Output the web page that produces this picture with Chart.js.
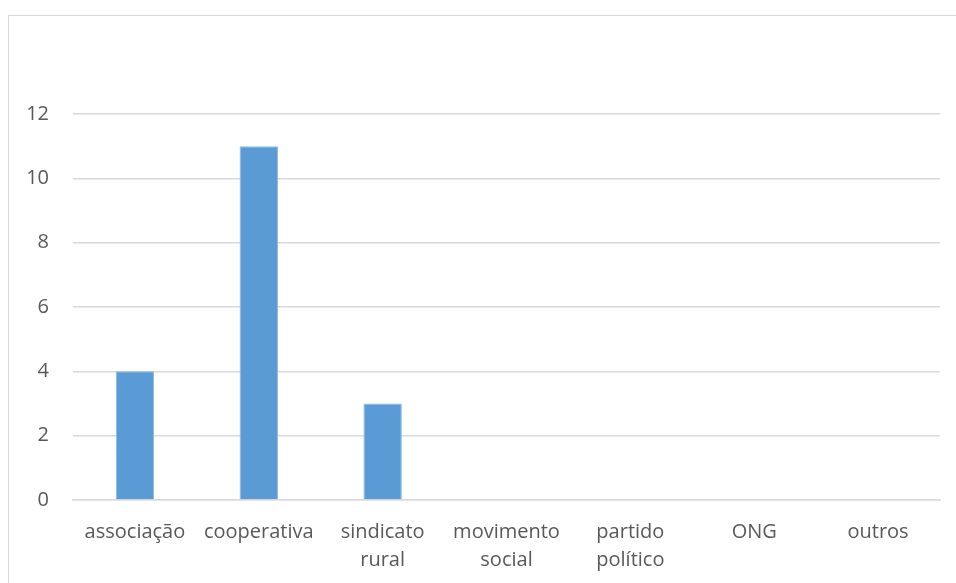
<!DOCTYPE html>
<html>
<head>
<meta charset="utf-8">
<script src="https://cdn.jsdelivr.net/npm/chart.js@4.4.1/dist/chart.umd.min.js"></script>
<style>
  html, body { margin: 0; padding: 0; background: #fff; overflow: hidden; }
  #wrap { width: 956px; height: 583px; }
</style>
</head>
<body>
<div id="wrap"><canvas id="c" width="956" height="583"></canvas></div>
<script>
// Categories (multi-line labels split as arrays)
const categories = [
  'associação',
  'cooperativa',
  ['sindicato', 'rural'],
  ['movimento', 'social'],
  ['partido', 'político'],
  'ONG',
  'outros'
];
// Counts per category
const counts = [4, 11, 3, 0, 0, 0, 0];
// Value axis range
const yMin = 0;
const yMax = 12;
const yStep = 2;

// Light gray frame around the chart
const framePlugin = {
  id: 'frame',
  beforeDraw(chart) {
    const ctx = chart.ctx;
    ctx.save();
    ctx.fillStyle = '#ffffff';
    ctx.fillRect(0, 0, chart.width, chart.height);
    ctx.strokeStyle = '#d9d9d9';
    ctx.lineWidth = 1;
    ctx.strokeRect(8.5, 15.5, 1000, 1000);
    ctx.restore();
  }
};

const font = { family: '"Open Sans", "Liberation Sans", sans-serif', size: 20, lineHeight: 1.4 };

new Chart(document.getElementById('c'), {
  type: 'bar',
  data: {
    labels: categories,
    datasets: [{
      data: counts,
      backgroundColor: '#5b9bd5',
      borderColor: '#8fb9e3',
      borderWidth: 1,
      barPercentage: 0.31,
      categoryPercentage: 1.0
    }]
  },
  options: {
    responsive: false,
    animation: false,
    layout: { padding: { top: 114, right: 16, bottom: 0, left: 0 } },
    plugins: {
      legend: { display: false },
      title: { display: false },
      tooltip: { enabled: false }
    },
    scales: {
      x: {
        grid: { display: false, drawTicks: false },
        border: { display: true, color: '#d9d9d9', width: 1.5 },
        ticks: {
          color: '#595959',
          font: font,
          padding: 18,
          maxRotation: 0,
          autoSkip: false
        },
        afterFit(scale) { scale.height = 83; }
      },
      y: {
        min: yMin,
        max: yMax,
        grid: { color: '#d9d9d9', lineWidth: 1.5, drawTicks: false },
        border: { display: false },
        ticks: {
          stepSize: yStep,
          color: '#595959',
          font: font,
          padding: 24
        },
        afterFit(scale) { scale.width = 73; }
      }
    }
  },
  plugins: [framePlugin]
});
</script>
</body>
</html>
